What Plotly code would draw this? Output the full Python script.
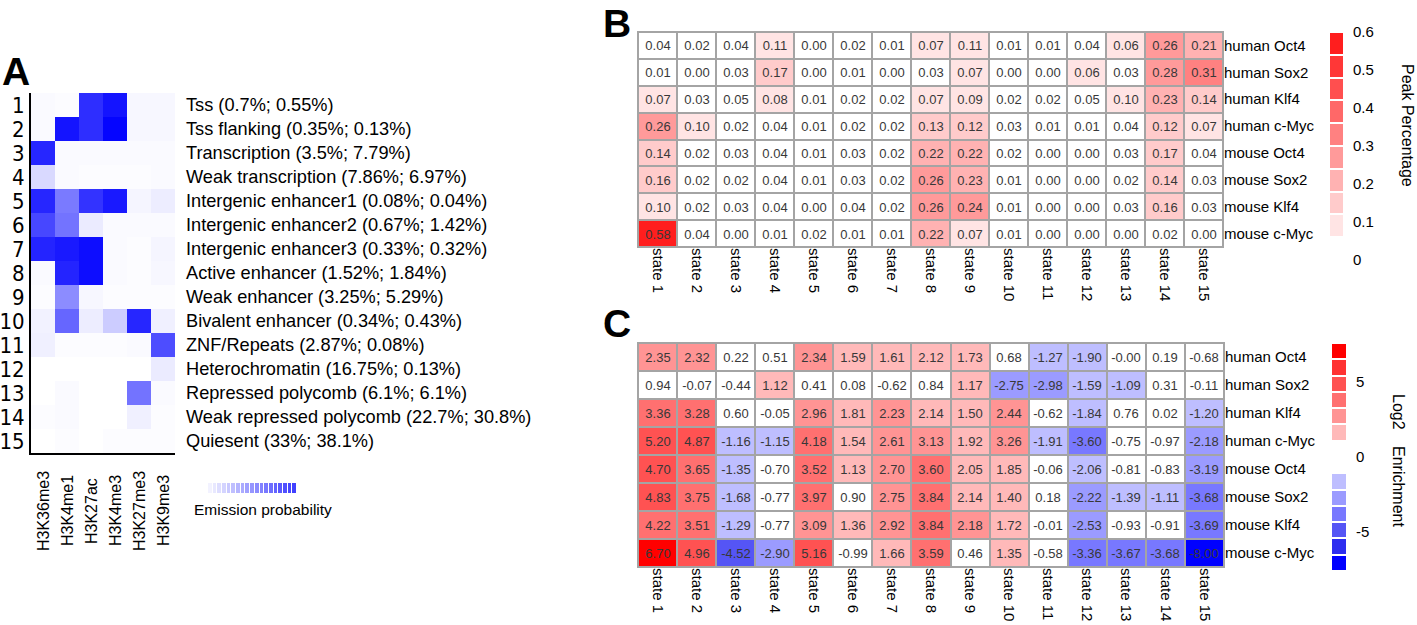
import plotly.graph_objects as go

W, H = 1417, 625


def fx(p):
    return p / W


def fy(p):
    return 1 - p / H


FONT = "Liberation Sans"

# ---------------- Panel A data ----------------
marks = ["H3K36me3", "H3K4me1", "H3K27ac", "H3K4me3", "H3K27me3", "H3K9me3"]
state_numbers = [1, 2, 3, 4, 5, 6, 7, 8, 9, 10, 11, 12, 13, 14, 15]
state_desc = [
    "Tss (0.7%; 0.55%)",
    "Tss flanking (0.35%; 0.13%)",
    "Transcription (3.5%; 7.79%)",
    "Weak transcription (7.86%; 6.97%)",
    "Intergenic enhancer1 (0.08%; 0.04%)",
    "Intergenic enhancer2 (0.67%; 1.42%)",
    "Intergenic enhancer3 (0.33%; 0.32%)",
    "Active enhancer (1.52%; 1.84%)",
    "Weak enhancer (3.25%; 5.29%)",
    "Bivalent enhancer (0.34%; 0.43%)",
    "ZNF/Repeats (2.87%; 0.08%)",
    "Heterochromatin (16.75%; 0.13%)",
    "Repressed polycomb (6.1%; 6.1%)",
    "Weak repressed polycomb (22.7%; 30.8%)",
    "Quiesent (33%; 38.1%)",
]
emission = [
    [0.02, 0.01, 0.82, 0.92, 0.03, 0.03],
    [0.02, 0.92, 0.82, 0.98, 0.03, 0.03],
    [0.85, 0.02, 0.02, 0.02, 0.02, 0.02],
    [0.15, 0.02, 0.01, 0.01, 0.01, 0.02],
    [0.85, 0.52, 0.80, 0.90, 0.04, 0.07],
    [0.72, 0.55, 0.08, 0.02, 0.02, 0.02],
    [0.86, 0.90, 0.95, 0.02, 0.01, 0.04],
    [0.02, 0.86, 0.95, 0.02, 0.01, 0.03],
    [0.01, 0.45, 0.03, 0.01, 0.01, 0.01],
    [0.05, 0.60, 0.07, 0.20, 0.85, 0.06],
    [0.06, 0.01, 0.01, 0.01, 0.02, 0.70],
    [0.00, 0.00, 0.00, 0.00, 0.00, 0.08],
    [0.00, 0.02, 0.00, 0.00, 0.55, 0.02],
    [0.01, 0.02, 0.00, 0.00, 0.06, 0.01],
    [0.00, 0.01, 0.00, 0.01, 0.01, 0.01],
]
emission_legend_levels = [0.05, 0.09, 0.13, 0.17, 0.21, 0.25, 0.29, 0.33, 0.37,
                          0.41, 0.45, 0.49, 0.53, 0.57, 0.61, 0.65, 0.69, 0.72, 0.75]

# ---------------- Panels B / C data ----------------
states = ["state 1", "state 2", "state 3", "state 4", "state 5", "state 6", "state 7",
          "state 8", "state 9", "state 10", "state 11", "state 12", "state 13",
          "state 14", "state 15"]
factors = ["human Oct4", "human Sox2", "human Klf4", "human c-Myc",
           "mouse Oct4", "mouse Sox2", "mouse Klf4", "mouse c-Myc"]

peak_pct = [
    [0.04, 0.02, 0.04, 0.11, 0.00, 0.02, 0.01, 0.07, 0.11, 0.01, 0.01, 0.04, 0.06, 0.26, 0.21],
    [0.01, 0.00, 0.03, 0.17, 0.00, 0.01, 0.00, 0.03, 0.07, 0.00, 0.00, 0.06, 0.03, 0.28, 0.31],
    [0.07, 0.03, 0.05, 0.08, 0.01, 0.02, 0.02, 0.07, 0.09, 0.02, 0.02, 0.05, 0.10, 0.23, 0.14],
    [0.26, 0.10, 0.02, 0.04, 0.01, 0.02, 0.02, 0.13, 0.12, 0.03, 0.01, 0.01, 0.04, 0.12, 0.07],
    [0.14, 0.02, 0.03, 0.04, 0.01, 0.03, 0.02, 0.22, 0.22, 0.02, 0.00, 0.00, 0.03, 0.17, 0.04],
    [0.16, 0.02, 0.02, 0.04, 0.01, 0.03, 0.02, 0.26, 0.23, 0.01, 0.00, 0.00, 0.02, 0.14, 0.03],
    [0.10, 0.02, 0.03, 0.04, 0.00, 0.04, 0.02, 0.26, 0.24, 0.01, 0.00, 0.00, 0.03, 0.16, 0.03],
    [0.58, 0.04, 0.00, 0.01, 0.02, 0.01, 0.01, 0.22, 0.07, 0.01, 0.00, 0.00, 0.00, 0.02, 0.00],
]

log2_enrich = [
    [2.35, 2.32, 0.22, 0.51, 2.34, 1.59, 1.61, 2.12, 1.73, 0.68, -1.27, -1.90, -0.0, 0.19, -0.68],
    [0.94, -0.07, -0.44, 1.12, 0.41, 0.08, -0.62, 0.84, 1.17, -2.75, -2.98, -1.59, -1.09, 0.31, -0.11],
    [3.36, 3.28, 0.60, -0.05, 2.96, 1.81, 2.23, 2.14, 1.50, 2.44, -0.62, -1.84, 0.76, 0.02, -1.20],
    [5.20, 4.87, -1.16, -1.15, 4.18, 1.54, 2.61, 3.13, 1.92, 3.26, -1.91, -3.60, -0.75, -0.97, -2.18],
    [4.70, 3.65, -1.35, -0.70, 3.52, 1.13, 2.70, 3.60, 2.05, 1.85, -0.06, -2.06, -0.81, -0.83, -3.19],
    [4.83, 3.75, -1.68, -0.77, 3.97, 0.90, 2.75, 3.84, 2.14, 1.40, 0.18, -2.22, -1.39, -1.11, -3.68],
    [4.22, 3.51, -1.29, -0.77, 3.09, 1.36, 2.92, 3.84, 2.18, 1.72, -0.01, -2.53, -0.93, -0.91, -3.69],
    [6.70, 4.96, -4.52, -2.90, 5.16, -0.99, 1.66, 3.59, 0.46, 1.35, -0.58, -3.36, -3.67, -3.68, -8.00],
]

# legend scales
peak_bin = 0.06
peak_colors = ["#ffffff", "rgb(255,228,228)", "rgb(255,203,203)", "rgb(255,178,178)",
               "rgb(255,154,154)", "rgb(255,129,129)", "rgb(255,104,104)",
               "rgb(255,79,79)", "rgb(255,55,55)", "rgb(255,30,30)"]
peak_ticks = [0, 0.1, 0.2, 0.3, 0.4, 0.5, 0.6]
peak_ticktext = ["0", "0.1", "0.2", "0.3", "0.4", "0.5", "0.6"]

enr_bin = 1.088
enr_colors = ["rgb(0,0,255)", "rgb(45,45,240)", "rgb(85,85,245)", "rgb(120,120,255)",
              "rgb(155,155,255)", "rgb(190,190,255)", "#ffffff", "#ffffff",
              "rgb(255,185,185)", "rgb(255,148,148)", "rgb(255,112,112)",
              "rgb(255,82,82)", "rgb(255,50,50)", "rgb(255,0,0)"]
enr_ticks = [-5, 0, 5]
enr_ticktext = ["-5", "0", "5"]


def stepped(colors):
    n = len(colors)
    cs = []
    for i, c in enumerate(colors):
        cs.append([i / n, c])
        cs.append([(i + 1) / n, c])
    return cs


peak_cs = stepped(peak_colors)
peak_zmin = -0.005
peak_zmax = peak_zmin + peak_bin * len(peak_colors)
enr_cs = stepped(enr_colors)
enr_zmax = enr_bin * len(enr_colors) / 2
enr_zmin = -enr_zmax

peak_leg_centers = [peak_bin * (i + 0.5) for i in range(len(peak_colors))]
enr_leg_centers = [enr_zmin + enr_bin * (i + 0.5) for i in range(len(enr_colors))]

peak_text = [[f"{v:.2f}" for v in row] for row in peak_pct]
enr_text = [[f"{v:.2f}" for v in row] for row in log2_enrich]

fig = go.Figure()

# Panel A heatmap
fig.add_trace(go.Heatmap(
    z=emission, x=marks, y=state_numbers,
    colorscale=[[0, "#ffffff"], [1, "#0000ff"]], zmin=0, zmax=1,
    showscale=False, xaxis="x", yaxis="y", hoverinfo="skip"))

# Panel A emission legend
fig.add_trace(go.Heatmap(
    z=[emission_legend_levels],
    colorscale=[[0, "#ffffff"], [1, "#0000ff"]], zmin=0, zmax=1,
    xgap=1, showscale=False, xaxis="x6", yaxis="y6", hoverinfo="skip"))

# Panel B
fig.add_trace(go.Heatmap(
    z=peak_pct, x=states, y=factors, text=peak_text, texttemplate="%{text}",
    textfont=dict(family=FONT, size=13, color="#383838"),
    colorscale=peak_cs, zmin=peak_zmin, zmax=peak_zmax,
    xgap=2, ygap=2, showscale=False, xaxis="x2", yaxis="y2", hoverinfo="skip"))

# Panel C
fig.add_trace(go.Heatmap(
    z=log2_enrich, x=states, y=factors, text=enr_text, texttemplate="%{text}",
    textfont=dict(family=FONT, size=13, color="#383838"),
    colorscale=enr_cs, zmin=enr_zmin, zmax=enr_zmax,
    xgap=2, ygap=2, showscale=False, xaxis="x3", yaxis="y3", hoverinfo="skip"))

# Legend B
fig.add_trace(go.Heatmap(
    z=[[v] for v in peak_leg_centers], x=[0], y=peak_leg_centers,
    colorscale=peak_cs, zmin=peak_zmin, zmax=peak_zmax,
    ygap=2, showscale=False, xaxis="x4", yaxis="y4", hoverinfo="skip"))

# Legend C
fig.add_trace(go.Heatmap(
    z=[[v] for v in enr_leg_centers], x=[0], y=enr_leg_centers,
    colorscale=enr_cs, zmin=enr_zmin, zmax=enr_zmax,
    ygap=2, showscale=False, xaxis="x5", yaxis="y5", hoverinfo="skip"))

base_ax = dict(showgrid=False, zeroline=False, fixedrange=True)
tick15 = dict(family=FONT, size=15, color="black")

fig.update_layout(
    width=W, height=H, autosize=False,
    margin=dict(l=0, r=0, t=0, b=0),
    paper_bgcolor="white", plot_bgcolor="white",
    template="none", showlegend=False,
    xaxis=dict(domain=[fx(31), fx(175)], anchor="y", showticklabels=False, ticks="",
               showline=True, linecolor="black", linewidth=2, **base_ax),
    yaxis=dict(domain=[fy(453), fy(93)], anchor="x", autorange="reversed",
               tickvals=state_numbers, ticktext=[str(n) for n in state_numbers],
               tickfont=dict(family="DejaVu Sans Condensed, DejaVu Sans", size=22,
                             color="black"), ticks="",
               showline=True, linecolor="black", linewidth=2, **base_ax),
    xaxis2=dict(domain=[fx(638), fx(1223)], anchor="y2", tickangle=90, ticks="",
                tickfont=tick15, **base_ax),
    yaxis2=dict(domain=[fy(247), fy(32)], anchor="x2", side="right", autorange="reversed",
                ticks="", tickfont=tick15, **base_ax),
    xaxis3=dict(domain=[fx(638), fx(1224)], anchor="y3", tickangle=90, ticks="",
                tickfont=tick15, **base_ax),
    yaxis3=dict(domain=[fy(567), fy(343)], anchor="x3", side="right", autorange="reversed",
                ticks="", tickfont=tick15, **base_ax),
    xaxis4=dict(domain=[fx(1330), fx(1343)], anchor="y4", visible=False,
                range=[-0.5, 0.5], **base_ax),
    yaxis4=dict(domain=[fy(260), fy(32)], anchor="x4", side="right",
                range=[0, peak_bin * len(peak_colors)],
                tickvals=peak_ticks, ticktext=peak_ticktext, tickfont=tick15,
                ticks="outside", ticklen=6, tickcolor="rgba(0,0,0,0)", **base_ax),
    xaxis5=dict(domain=[fx(1332), fx(1346)], anchor="y5", visible=False,
                range=[-0.5, 0.5], **base_ax),
    yaxis5=dict(domain=[fy(571), fy(343)], anchor="x5", side="right",
                range=[enr_zmin, enr_zmax],
                tickvals=enr_ticks, ticktext=enr_ticktext, tickfont=tick15,
                ticks="outside", ticklen=6, tickcolor="rgba(0,0,0,0)", **base_ax),
    xaxis6=dict(domain=[fx(208), fx(297)], anchor="y6", visible=False, **base_ax),
    yaxis6=dict(domain=[fy(493), fy(483)], anchor="x6", visible=False, **base_ax),
)

# grey grid behind B and C
for xr, yr in (("x2", "y2"), ("x3", "y3")):
    fig.add_shape(type="rect", xref=f"{xr} domain", yref=f"{yr} domain",
                  x0=0, x1=1, y0=0, y1=1, layer="below",
                  fillcolor="#a4a4a4", line=dict(color="#a4a4a4", width=2))

ann = []
# panel letters
ann.append(dict(text="<b>A</b>", x=fx(0), y=fy(72), xref="paper", yref="paper",
                xanchor="left", yanchor="middle", showarrow=False,
                font=dict(family=FONT, size=39, color="black")))
ann.append(dict(text="<b>B</b>", x=fx(633), y=fy(0), xref="paper", yref="paper",
                xanchor="right", yanchor="top", showarrow=False,
                font=dict(family=FONT, size=39, color="black")))
ann.append(dict(text="<b>C</b>", x=fx(633), y=fy(323), xref="paper", yref="paper",
                xanchor="right", yanchor="middle", showarrow=False,
                font=dict(family=FONT, size=39, color="black")))

# state descriptions
for n, desc in zip(state_numbers, state_desc):
    ann.append(dict(text=desc, x=fx(184), y=n, xref="paper", yref="y",
                    xanchor="left", yanchor="middle", showarrow=False,
                    font=dict(family=FONT, size=18.2, color="black")))

# mark labels
for m in marks:
    ann.append(dict(text=m, x=m, y=fy(511), xref="x", yref="paper", textangle=-90,
                    xanchor="center", yanchor="middle", showarrow=False,
                    font=dict(family=FONT, size=16, color="black")))

ann.append(dict(text="Emission probability", x=fx(192), y=fy(509), xref="paper",
                yref="paper", xanchor="left", yanchor="middle", showarrow=False,
                font=dict(family=FONT, size=15.5, color="black")))

ann.append(dict(text="Peak Percentage", x=fx(1407), y=fy(125), xref="paper",
                yref="paper", textangle=90, xanchor="center", yanchor="middle",
                showarrow=False, font=dict(family=FONT, size=16, color="black")))
ann.append(dict(text="Log2", x=fx(1399), y=fy(412), xref="paper",
                yref="paper", textangle=90, xanchor="center", yanchor="middle",
                showarrow=False, font=dict(family=FONT, size=16, color="black")))
ann.append(dict(text="Enrichment", x=fx(1399), y=fy(486), xref="paper",
                yref="paper", textangle=90, xanchor="center", yanchor="middle",
                showarrow=False, font=dict(family=FONT, size=16, color="black")))

fig.update_layout(annotations=ann)

fig.write_html("out.html",
               config={"displayModeBar": False},
               post_script="document.body.style.margin='0px';"
                           "document.body.style.overflow='hidden';")
